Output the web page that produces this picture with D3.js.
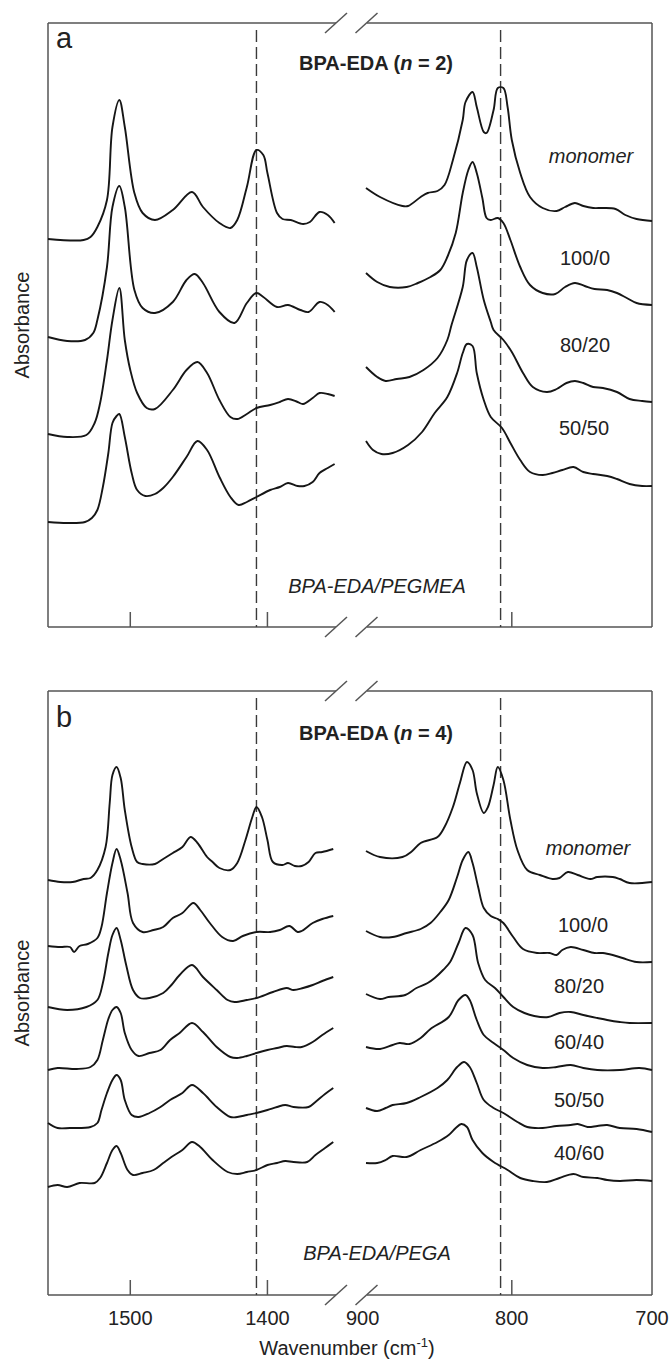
<!DOCTYPE html>
<html>
<head>
<meta charset="utf-8">
<title>FTIR spectra BPA-EDA</title>
<style>
  body { margin: 0; background: #fff; }
  text { font-family: "Liberation Sans", Arial, Helvetica, sans-serif; fill: #222; }
  .frame { stroke: #555; stroke-width: 1.5; fill: none; }
  .spec { stroke: #161616; stroke-width: 1.9; fill: none; stroke-linejoin: round; }
  .marker { stroke: #3a3a3a; stroke-width: 1.4; stroke-dasharray: 12,5; }
</style>
</head>
<body>
<script src="https://cdn.jsdelivr.net/npm/d3@7"></script>
<script>
// wavenumber windows either side of the axis break (cm-1)
var rangeHigh = [1560, 1350], rangeLow = [904, 700];
var ticksHigh = [1500, 1400], ticksLow = [800];
var tickLabelsHigh = [1500, 1400], tickLabelsLow = [900, 800, 700];
var markerHigh = 1408, markerLow = 808;   // C=C bands (dashed)

// panel a : BPA-EDA (n = 2) / PEGMEA, absorbance (offset, a.u.)
var a_names = ["monomer", "100/0", "80/20", "50/50"];
var a_monomer_hi = [[1560,3.88],[1534,3.87],[1529,3.90],[1524,4.00],[1517,4.27],[1513,5.00],[1508,5.27],[1504,5.00],[1497,4.34],[1491,4.14],[1482,4.07],[1469,4.17],[1455,4.35],[1447,4.20],[1435,4.04],[1427,3.99],[1422,4.07],[1415,4.40],[1408,4.77],[1403,4.72],[1400,4.54],[1393,4.14],[1389,4.08],[1383,4.07],[1374,4.03],[1369,4.05],[1362,4.15],[1356,4.12],[1351,4.04]];
var a_100_0_hi = [[1560,2.90],[1546,2.86],[1533,2.87],[1527,2.94],[1524,3.07],[1517,3.60],[1513,4.20],[1508,4.41],[1504,4.20],[1497,3.37],[1491,3.19],[1482,3.14],[1469,3.25],[1459,3.47],[1453,3.53],[1447,3.44],[1435,3.15],[1424,3.04],[1415,3.24],[1408,3.34],[1403,3.30],[1393,3.20],[1385,3.22],[1376,3.17],[1370,3.15],[1362,3.25],[1356,3.22],[1351,3.15]];
var a_80_20_hi = [[1560,1.93],[1546,1.90],[1532,1.92],[1526,2.04],[1522,2.24],[1517,2.67],[1513,3.07],[1508,3.39],[1504,2.87],[1500,2.57],[1495,2.34],[1488,2.19],[1482,2.18],[1469,2.37],[1459,2.57],[1451,2.65],[1444,2.54],[1435,2.27],[1427,2.10],[1422,2.08],[1415,2.13],[1408,2.19],[1398,2.22],[1391,2.25],[1385,2.28],[1378,2.25],[1374,2.23],[1367,2.29],[1362,2.34],[1356,2.33],[1351,2.31]];
var a_50_50_hi = [[1560,1.05],[1546,1.04],[1533,1.05],[1528,1.09],[1524,1.17],[1520,1.40],[1516,1.74],[1513,2.04],[1510,2.11],[1508,2.13],[1504,1.90],[1499,1.54],[1495,1.37],[1489,1.31],[1482,1.33],[1476,1.39],[1469,1.50],[1459,1.70],[1451,1.86],[1444,1.77],[1435,1.50],[1427,1.30],[1421,1.22],[1415,1.25],[1408,1.30],[1398,1.37],[1391,1.40],[1385,1.44],[1378,1.41],[1373,1.41],[1367,1.45],[1362,1.54],[1356,1.59],[1351,1.63]];
var a_monomer_lo = [[904,4.39],[894,4.30],[878,4.21],[874,4.21],[865,4.30],[860,4.34],[853,4.36],[848,4.42],[842,4.67],[835,5.07],[833,5.25],[828,5.35],[825,5.20],[820,4.95],[818,4.94],[813,5.17],[810,5.39],[806,5.39],[803,5.20],[800,4.87],[794,4.54],[787,4.30],[778,4.19],[768,4.16],[762,4.20],[755,4.24],[749,4.21],[742,4.19],[735,4.19],[726,4.18],[719,4.12],[711,4.08],[700,4.06]];
var a_100_0_lo = [[904,3.54],[896,3.45],[887,3.40],[875,3.40],[867,3.44],[858,3.50],[851,3.57],[846,3.70],[840,3.94],[835,4.34],[831,4.57],[828,4.65],[825,4.54],[821,4.29],[818,4.09],[815,4.07],[810,4.09],[806,4.04],[801,3.87],[794,3.60],[787,3.42],[778,3.34],[769,3.33],[762,3.40],[755,3.44],[748,3.41],[741,3.38],[732,3.37],[725,3.34],[718,3.29],[711,3.24],[700,3.22]];
var a_80_20_lo = [[904,2.60],[896,2.50],[890,2.46],[882,2.48],[873,2.50],[863,2.57],[853,2.69],[846,2.87],[843,3.02],[835,3.40],[832,3.67],[828,3.74],[825,3.60],[820,3.27],[815,3.05],[813,2.97],[806,2.87],[800,2.75],[792,2.54],[785,2.40],[775,2.35],[768,2.38],[761,2.44],[755,2.46],[749,2.44],[742,2.40],[735,2.39],[725,2.35],[716,2.28],[707,2.26],[700,2.25]];
var a_50_50_lo = [[904,1.86],[899,1.77],[893,1.73],[885,1.74],[874,1.82],[864,1.95],[855,2.14],[846,2.30],[839,2.54],[835,2.74],[832,2.83],[828,2.81],[825,2.54],[820,2.27],[815,2.10],[807,1.99],[801,1.84],[794,1.67],[787,1.55],[778,1.52],[771,1.54],[764,1.57],[756,1.60],[749,1.55],[742,1.53],[732,1.51],[725,1.48],[716,1.43],[707,1.41],[700,1.41]];

// panel b : BPA-EDA (n = 4) / PEGA
var b_names = ["monomer", "100/0", "80/20", "60/40", "50/50", "40/60"];
var b_monomer_hi = [[1560,4.15],[1551,4.13],[1542,4.13],[1534,4.16],[1529,4.17],[1524,4.25],[1518,4.48],[1515,4.92],[1513,5.20],[1510,5.28],[1507,5.17],[1504,4.85],[1499,4.48],[1495,4.33],[1491,4.31],[1482,4.31],[1476,4.36],[1469,4.42],[1462,4.48],[1456,4.58],[1451,4.52],[1444,4.38],[1440,4.33],[1435,4.27],[1427,4.25],[1422,4.32],[1416,4.55],[1411,4.78],[1408,4.88],[1404,4.78],[1400,4.55],[1396,4.33],[1389,4.30],[1385,4.32],[1380,4.29],[1375,4.29],[1370,4.33],[1365,4.42],[1360,4.43],[1352,4.46]];
var b_100_0_hi = [[1560,3.49],[1551,3.48],[1544,3.48],[1541,3.43],[1537,3.49],[1531,3.51],[1524,3.57],[1521,3.68],[1517,4.02],[1513,4.32],[1510,4.46],[1507,4.35],[1502,4.02],[1498,3.72],[1491,3.63],[1483,3.65],[1476,3.68],[1469,3.77],[1462,3.82],[1454,3.92],[1449,3.85],[1442,3.72],[1433,3.58],[1425,3.54],[1418,3.59],[1408,3.63],[1398,3.63],[1391,3.65],[1384,3.69],[1378,3.63],[1375,3.64],[1367,3.72],[1360,3.76],[1352,3.79]];
var b_80_20_hi = [[1560,2.88],[1546,2.85],[1532,2.88],[1524,2.95],[1520,3.12],[1516,3.42],[1513,3.60],[1510,3.67],[1507,3.55],[1503,3.30],[1498,3.05],[1493,2.97],[1486,2.97],[1476,3.02],[1470,3.10],[1464,3.20],[1455,3.30],[1447,3.18],[1437,3.05],[1429,2.95],[1424,2.93],[1415,2.95],[1408,2.97],[1396,3.03],[1386,3.07],[1381,3.05],[1374,3.07],[1367,3.10],[1360,3.14],[1352,3.18]];
var b_60_40_hi = [[1560,2.25],[1553,2.27],[1539,2.26],[1529,2.28],[1524,2.35],[1520,2.55],[1516,2.76],[1513,2.85],[1510,2.88],[1507,2.82],[1504,2.62],[1499,2.45],[1494,2.39],[1486,2.42],[1478,2.45],[1471,2.55],[1464,2.62],[1455,2.72],[1447,2.63],[1437,2.48],[1427,2.38],[1422,2.37],[1415,2.39],[1408,2.42],[1400,2.45],[1393,2.47],[1386,2.49],[1380,2.48],[1375,2.48],[1367,2.53],[1360,2.60],[1352,2.67]];
var b_50_50_hi = [[1560,1.72],[1553,1.67],[1544,1.67],[1529,1.68],[1524,1.72],[1521,1.85],[1517,2.02],[1513,2.15],[1510,2.20],[1507,2.15],[1504,1.95],[1499,1.80],[1494,1.78],[1486,1.82],[1478,1.88],[1471,1.95],[1462,2.02],[1455,2.10],[1447,2.02],[1437,1.88],[1427,1.78],[1422,1.78],[1415,1.80],[1408,1.82],[1400,1.85],[1393,1.88],[1387,1.90],[1381,1.88],[1370,1.88],[1365,1.93],[1358,2.01],[1352,2.07]];
var b_40_60_hi = [[1560,1.08],[1553,1.10],[1546,1.08],[1537,1.12],[1526,1.12],[1522,1.17],[1517,1.32],[1513,1.45],[1510,1.49],[1507,1.42],[1502,1.25],[1498,1.20],[1491,1.22],[1483,1.25],[1476,1.32],[1470,1.38],[1462,1.45],[1455,1.53],[1449,1.48],[1440,1.35],[1429,1.23],[1422,1.21],[1415,1.23],[1408,1.25],[1400,1.30],[1393,1.32],[1387,1.34],[1381,1.33],[1371,1.33],[1365,1.40],[1358,1.47],[1352,1.53]];
var b_monomer_lo = [[904,4.44],[894,4.38],[878,4.38],[871,4.44],[865,4.52],[853,4.58],[848,4.68],[842,4.88],[837,5.12],[832,5.33],[828,5.25],[825,5.02],[820,4.82],[817,4.88],[813,5.10],[810,5.28],[806,5.15],[801,4.75],[796,4.45],[789,4.25],[780,4.20],[771,4.16],[766,4.17],[760,4.23],[753,4.20],[744,4.16],[739,4.18],[728,4.18],[723,4.16],[716,4.12],[700,4.13]];
var b_100_0_lo = [[904,3.64],[894,3.58],[885,3.58],[875,3.62],[865,3.66],[858,3.72],[851,3.83],[845,3.95],[839,4.18],[835,4.35],[831,4.43],[828,4.32],[824,4.08],[820,3.87],[815,3.79],[810,3.76],[806,3.72],[799,3.58],[792,3.46],[782,3.42],[773,3.42],[768,3.40],[764,3.45],[758,3.48],[749,3.45],[741,3.42],[735,3.42],[728,3.40],[721,3.37],[711,3.33],[700,3.33]];
var b_80_20_lo = [[904,3.01],[894,2.96],[888,2.98],[876,3.00],[868,3.07],[860,3.12],[855,3.17],[849,3.25],[844,3.33],[838,3.52],[833,3.67],[828,3.60],[824,3.32],[819,3.15],[812,3.07],[806,2.98],[799,2.88],[791,2.82],[784,2.79],[774,2.78],[766,2.82],[758,2.83],[749,2.80],[739,2.77],[732,2.75],[723,2.73],[716,2.72],[700,2.72]];
var b_60_40_lo = [[904,2.48],[894,2.46],[885,2.50],[880,2.52],[873,2.51],[865,2.57],[858,2.66],[845,2.78],[838,2.95],[833,3.00],[830,2.95],[825,2.75],[820,2.60],[813,2.52],[806,2.45],[799,2.37],[789,2.30],[778,2.27],[768,2.28],[758,2.30],[749,2.27],[739,2.25],[723,2.25],[709,2.27],[700,2.25]];
var b_50_50_lo = [[904,1.87],[896,1.84],[890,1.87],[885,1.90],[875,1.92],[865,1.98],[853,2.07],[846,2.15],[839,2.28],[834,2.33],[830,2.28],[825,2.12],[820,1.95],[813,1.87],[806,1.82],[796,1.73],[789,1.68],[778,1.67],[768,1.69],[758,1.70],[753,1.71],[746,1.68],[739,1.69],[732,1.70],[723,1.67],[711,1.66],[700,1.63]];
var b_40_60_lo = [[904,1.32],[896,1.32],[890,1.35],[885,1.39],[875,1.38],[865,1.45],[853,1.53],[845,1.60],[840,1.67],[836,1.71],[832,1.68],[828,1.55],[821,1.42],[813,1.33],[803,1.25],[794,1.17],[785,1.14],[775,1.13],[766,1.17],[756,1.21],[749,1.18],[739,1.17],[732,1.15],[723,1.14],[711,1.15],[700,1.14]];

var svg = d3.select("body").append("svg")
    .attr("width", 672).attr("height", 1361);

var xHi = d3.scaleLinear().domain(rangeHigh).range([48, 336]);
var xLo = d3.scaleLinear().domain(rangeLow).range([366, 652]);

var panels = [
  { letter: "a", top: 23, n: "2", blend: "BPA-EDA/PEGMEA", names: a_names,
    hi: [a_monomer_hi, a_100_0_hi, a_80_20_hi, a_50_50_hi],
    lo: [a_monomer_lo, a_100_0_lo, a_80_20_lo, a_50_50_lo],
    letterY: 25, titleY: 47, blendY: 570,
    labelPos: [[591, 140], [585, 242], [585, 329], [584, 412]] },
  { letter: "b", top: 691, n: "4", blend: "BPA-EDA/PEGA", names: b_names,
    hi: [b_monomer_hi, b_100_0_hi, b_80_20_hi, b_60_40_hi, b_50_50_hi, b_40_60_hi],
    lo: [b_monomer_lo, b_100_0_lo, b_80_20_lo, b_60_40_lo, b_50_50_lo, b_40_60_lo],
    letterY: 36, titleY: 49, blendY: 569,
    labelPos: [[588, 164], [583, 241], [579, 302], [579, 358], [579, 416], [579, 469]] }
];

var H = 604;

panels.forEach(function (p, pi) {
  var top = p.top, bottom = top + H;
  var y = d3.scaleLinear().domain([0, 6.04]).range([bottom, top]);
  var g = svg.append("g");

  // frame with axis break
  [top, bottom].forEach(function (yy) {
    g.append("line").attr("class", "frame").attr("x1", 48).attr("x2", 336).attr("y1", yy).attr("y2", yy);
    g.append("line").attr("class", "frame").attr("x1", 367).attr("x2", 652).attr("y1", yy).attr("y2", yy);
    [336, 366.5].forEach(function (cx) {
      g.append("line").attr("class", "frame")
        .attr("x1", cx - 11).attr("y1", yy + 10).attr("x2", cx + 11).attr("y2", yy - 10);
    });
  });
  g.append("line").attr("class", "frame").attr("x1", 48).attr("x2", 48).attr("y1", top).attr("y2", bottom);
  g.append("line").attr("class", "frame").attr("x1", 652).attr("x2", 652).attr("y1", top).attr("y2", bottom);

  // inward tick marks
  ticksHigh.forEach(function (t) {
    g.append("line").attr("class", "frame").attr("x1", xHi(t)).attr("x2", xHi(t)).attr("y1", bottom).attr("y2", bottom - 15);
  });
  ticksLow.forEach(function (t) {
    g.append("line").attr("class", "frame").attr("x1", xLo(t)).attr("x2", xLo(t)).attr("y1", bottom).attr("y2", bottom - 15);
  });

  // dashed marker lines
  g.append("line").attr("class", "marker").attr("x1", xHi(markerHigh)).attr("x2", xHi(markerHigh)).attr("y1", top + 7).attr("y2", bottom);
  g.append("line").attr("class", "marker").attr("x1", xLo(markerLow)).attr("x2", xLo(markerLow)).attr("y1", top + 7).attr("y2", bottom);

  var lineHi = d3.line().x(function (d) { return xHi(d[0]); }).y(function (d) { return y(d[1]); }).curve(d3.curveCatmullRom.alpha(0.5));
  var lineLo = d3.line().x(function (d) { return xLo(d[0]); }).y(function (d) { return y(d[1]); }).curve(d3.curveCatmullRom.alpha(0.5));

  g.selectAll(".spec-hi").data(p.hi).enter().append("path").attr("class", "spec").attr("d", lineHi);
  g.selectAll(".spec-lo").data(p.lo).enter().append("path").attr("class", "spec").attr("d", lineLo);

  // texts
  g.append("text").attr("x", 56).attr("y", top + p.letterY).style("font-size", "29px").text(p.letter);

  var t = g.append("text").attr("x", 376).attr("y", top + p.titleY).attr("text-anchor", "middle")
    .style("font-size", "20px").style("font-weight", "bold");
  t.append("tspan").text("BPA-EDA (");
  t.append("tspan").style("font-style", "italic").text("n");
  t.append("tspan").text(" = " + p.n + ")");

  g.append("text").attr("x", 377).attr("y", top + p.blendY).attr("text-anchor", "middle")
    .style("font-size", "20px").style("font-style", "italic").text(p.blend);

  p.names.forEach(function (nm, i) {
    g.append("text").attr("x", p.labelPos[i][0]).attr("y", top + p.labelPos[i][1])
      .attr("text-anchor", "middle").style("font-size", "20px")
      .style("font-style", nm === "monomer" ? "italic" : "normal").text(nm);
  });

  g.append("text").attr("transform", "translate(29," + (top + H / 2) + ") rotate(-90)")
    .attr("text-anchor", "middle").style("font-size", "20px").text("Absorbance");

  // tick labels only under the lower panel
  if (pi === 1) {
    tickLabelsHigh.forEach(function (v) {
      g.append("text").attr("x", xHi(v)).attr("y", bottom + 30).attr("text-anchor", "middle").style("font-size", "20px").text(v);
    });
    tickLabelsLow.forEach(function (v) {
      g.append("text").attr("x", xLo(v)).attr("dx", v === 900 ? -9 : 0).attr("y", bottom + 30)
        .attr("text-anchor", "middle").style("font-size", "20px").text(v);
    });
    var xt = g.append("text").attr("x", 347).attr("y", bottom + 60).attr("text-anchor", "middle").style("font-size", "20px");
    xt.append("tspan").text("Wavenumber (cm");
    xt.append("tspan").attr("dy", -8).style("font-size", "13px").text("-1");
    xt.append("tspan").attr("dy", 8).text(")");
  }
});
</script>
</body>
</html>
